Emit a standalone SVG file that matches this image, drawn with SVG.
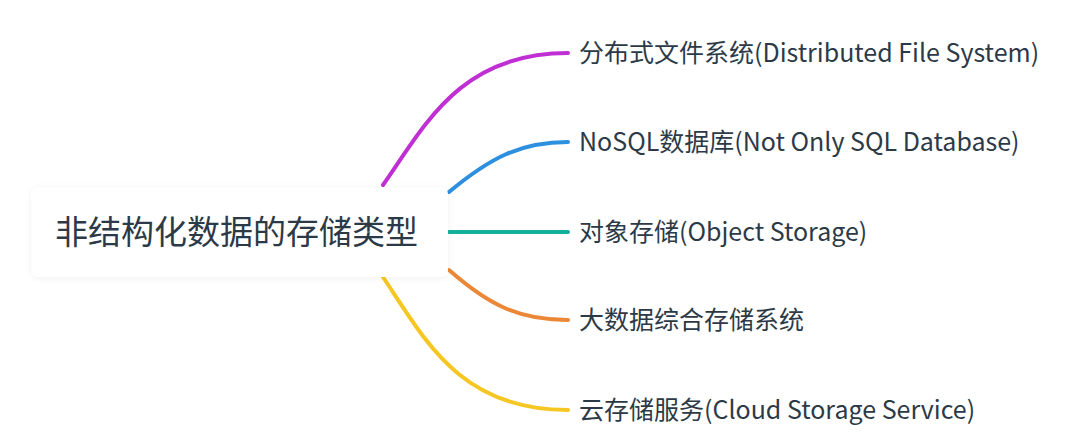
<svg xmlns="http://www.w3.org/2000/svg" width="1080" height="442" viewBox="0 0 1080 442">
<style>
.lbl{font-family:"Noto Sans CJK SC","Noto Sans",sans-serif;font-size:25px;fill:#2c3a47}
.title{font-family:"Noto Sans CJK SC","Noto Sans",sans-serif;font-size:33px;fill:#2c3a47}
.c{fill:none;stroke-width:4;stroke-linecap:round}
</style>
<defs>
<filter id="sh" x="-10%" y="-30%" width="120%" height="160%">
<feDropShadow dx="0" dy="1" stdDeviation="3" flood-color="#000" flood-opacity="0.06"/>
</filter>
</defs>
<rect width="1080" height="442" fill="#ffffff"/>
<g id="connectors">
<path class="c" stroke="#c02fd3" d="M383,185 C425,125 460,53 568,53"/>
<path class="c" stroke="#2d8fe0" d="M449,192 C490,158 520,142 568,142"/>
<path class="c" stroke="#16b19a" d="M449,232 L568,232"/>
<path class="c" stroke="#ea8838" d="M449,270 C490,306 520,320 568,320"/>
<path class="c" stroke="#f6c623" d="M383,277 C425,340 460,410 568,410"/>
</g>
<g id="root">
<rect x="31" y="187" width="417" height="90" rx="7" fill="#ffffff" filter="url(#sh)"/>
<text class="title" x="55" y="244">非结构化数据的存储类型</text>
</g>
<g id="n1"><text class="lbl" x="579" y="62">分布式文件系统(Distributed File System)</text></g>
<g id="n2"><text class="lbl" x="579" y="151">NoSQL数据库(Not Only SQL Database)</text></g>
<g id="n3"><text class="lbl" x="579" y="241">对象存储(Object Storage)</text></g>
<g id="n4"><text class="lbl" x="579" y="329">大数据综合存储系统</text></g>
<g id="n5"><text class="lbl" x="579" y="419">云存储服务(Cloud Storage Service)</text></g>
</svg>
